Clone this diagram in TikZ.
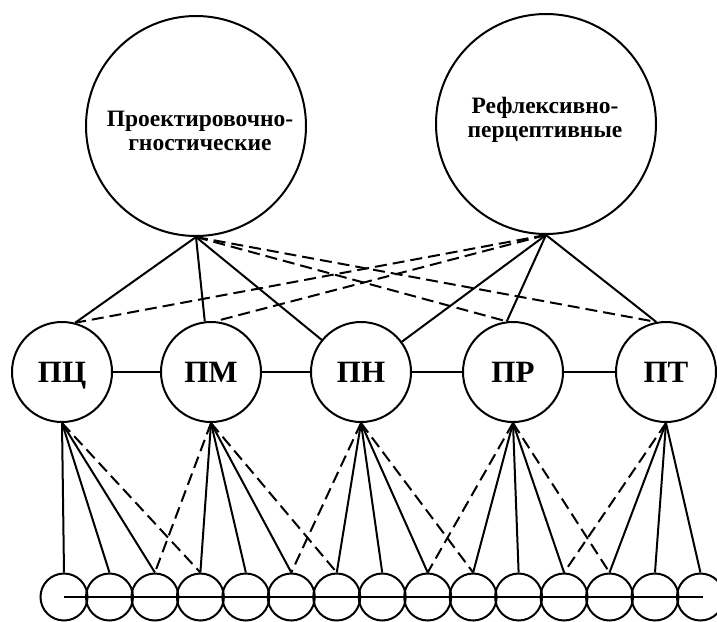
\documentclass[tikz,border=0pt]{standalone}
\usepackage{fontspec}
\setmainfont{Liberation Serif}
\begin{document}
\begin{tikzpicture}[x=1pt,y=-1pt,line width=2pt,
  big/.style={circle,draw,minimum size=220pt,inner sep=0pt},
  bigtext/.style={align=center,inner sep=0pt,
    font=\bfseries\fontsize{23.5}{24}\selectfont},
  mid/.style={circle,draw,minimum size=100pt,inner sep=0pt,text depth=0pt,
    font=\bfseries\fontsize{31}{33}\selectfont},
  small/.style={circle,draw,minimum size=47pt,inner sep=0pt},
  dsh/.style={dash pattern=on 12pt off 6pt}]
\useasboundingbox (0,0) rectangle (717,621);
\node[big] (B1) at (196,126) {};
\node[bigtext] (T1) at (200,131) {Проектировочно-\\гностические};
\node[big] (B2) at (546,124) {};
\node[bigtext] (T2) at (545,120) {Рефлексивно-\\перцептивные};
\node[mid] (m0) at (62,372) {ПЦ};
\node[mid] (m1) at (211,372) {ПМ};
\node[mid] (m2) at (361,372) {ПН};
\node[mid] (m3) at (513,372) {ПР};
\node[mid] (m4) at (666,372) {ПТ};
\foreach \i in {0,...,14} \node[small] (b\i) at ({64+45.46*\i},597) {};
% middle row links
\draw (m0) -- (m1); \draw (m1) -- (m2); \draw (m2) -- (m3); \draw (m3) -- (m4);
% upper links
\draw (B1.south) -- (m0.75);
\draw[dsh] (B2.south) -- (m0.75);
\draw (B1.south) -- (m1.97);
\draw[dsh] (B2.south) -- (m1.85);
\draw (B1.south) -- (m2);
\draw (B2.south) -- (m2);
\draw[dsh] (B1.south) -- (m3.97);
\draw (B2.south) -- (m3.97);
\draw[dsh] (B1.south) -- (m4.101);
\draw (B2.south) -- (m4.101);
% lower links
\foreach \i/\j in {0/0,0/1,0/2,1/3,1/4,1/5,2/6,2/7,2/8,3/9,3/10,3/11,4/12,4/13,4/14}
  \draw (m\i.south) -- (b\j.north);
\foreach \i/\j in {0/3,1/2,1/6,2/5,2/9,3/8,3/12,4/11}
  \draw[dsh] (m\i.south) -- (b\j.north);
% bottom line
\draw (b0.center) -- ([xshift=3pt]b14.center);
\end{tikzpicture}
\end{document}
